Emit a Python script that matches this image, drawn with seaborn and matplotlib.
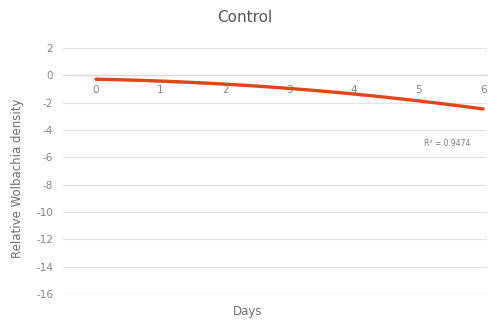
import numpy as np
import pandas as pd
import matplotlib
matplotlib.use("Agg")
import matplotlib.pyplot as plt
import seaborn as sns

# Relative Wolbachia density over time (control group)
days = [0, 1, 2, 3, 4, 5, 6]
density = [-0.22, -0.5, -0.7, -0.92, -1.32, -1.85, -2.5]
y_ticks = [2, 0, -2, -4, -6, -8, -10, -12, -14, -16]
r2_text = "R² = 0.9474"

sns.set_theme(style="white")
plt.rcParams["font.family"] = ["DejaVu Sans"]
plt.rcParams["axes.unicode_minus"] = False

df = pd.DataFrame({"Days": days, "Density": density})

fig = plt.figure(figsize=(4.89, 3.25), dpi=100)
ax = fig.add_axes([63 / 489, 31 / 325, 424 / 489, 246 / 325])

# horizontal gridlines
for yt in y_ticks:
    ax.axhline(yt, color="#e3e3e3", lw=0.9, zorder=0)

# measured values as a thin dotted series
sns.lineplot(data=df, x="Days", y="Density", ax=ax, color="#6b6b6b",
             lw=0.9, ls=(0, (1, 1)), zorder=2)

# second-order polynomial trendline
coef = np.polyfit(days, density, 2)
xs = np.linspace(days[0], days[-1], 100)
ax.plot(xs, np.polyval(coef, xs), color="#e2451c", lw=2.4, zorder=3)

ax.set_xlim(-0.512, 6.06)
ax.set_ylim(-16, 2)
ax.set_yticks(y_ticks)
ax.set_xticks(days)
ax.set_xticklabels([str(d) for d in days])

for s in ["top", "right", "left"]:
    ax.spines[s].set_visible(False)
ax.spines["bottom"].set_position(("data", 0))
ax.spines["bottom"].set_color("#d9d9d9")
ax.spines["bottom"].set_linewidth(0.9)

ax.tick_params(axis="y", length=0, pad=7, labelsize=7.5, labelcolor="#858585")
ax.tick_params(axis="x", length=0, pad=7, labelsize=7.5, labelcolor="#858585")

ax.set_xlabel("")
ax.set_ylabel("")
fig.text(248 / 489, 1 - 312 / 325, "Days", ha="center", va="center",
         fontsize=8.5, color="#6e6e6e")
fig.text(18 / 489, 1 - 178 / 325, "Relative Wolbachia density", ha="center",
         va="center", rotation=90, fontsize=8.5, color="#6e6e6e")
fig.text(245 / 489, 1 - 17 / 325, "Control", ha="center", va="center",
         fontsize=11, color="#555555")
ax.text(5.45, -5.0, r2_text, ha="center", va="center", fontsize=5.5,
        color="#7a7a7a")

fig.savefig("out.png", dpi=100)
